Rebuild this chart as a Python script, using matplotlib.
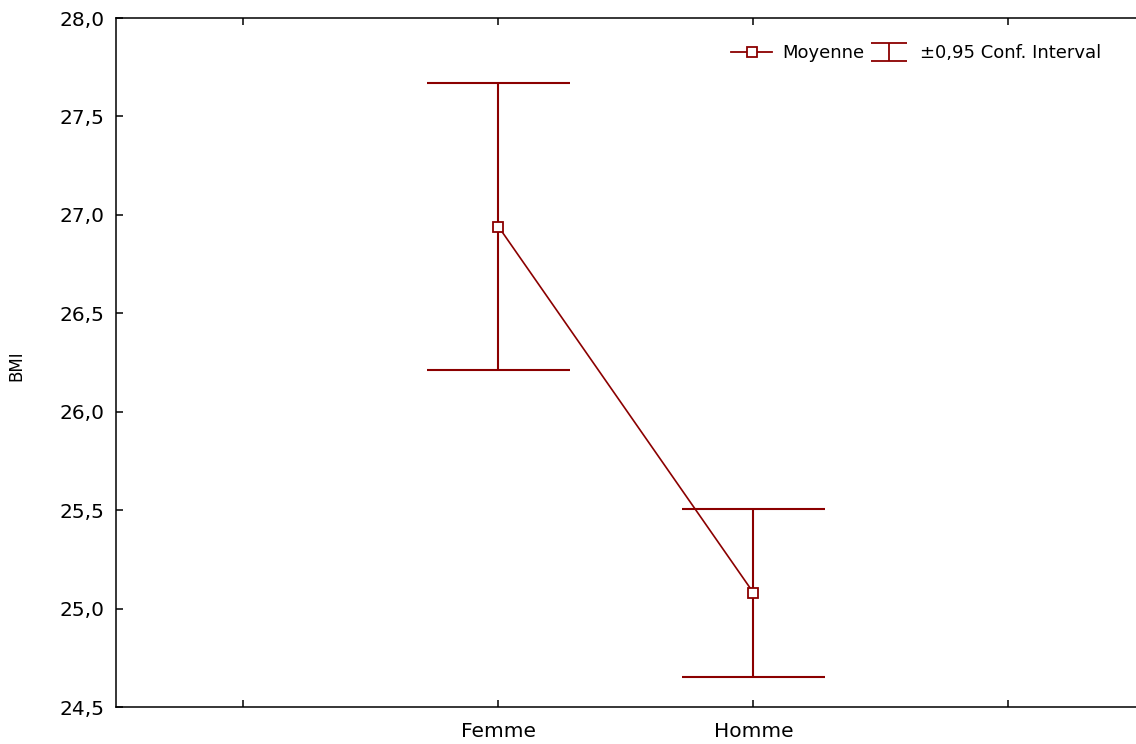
import matplotlib
matplotlib.use("Agg")
import matplotlib.pyplot as plt
from matplotlib.lines import Line2D
from matplotlib.path import Path
import numpy as np

# data
groups = ["Femme", "Homme"]
means = [26.94, 25.08]
ci_low = [26.21, 24.655]
ci_high = [27.67, 25.505]
y_ticks = [24.5, 25.0, 25.5, 26.0, 26.5, 27.0, 27.5, 28.0]

RED = "#8b0000"
plt.rcParams["font.family"] = ["DejaVu Sans"]

fig = plt.figure(figsize=(11.36, 7.44), dpi=100)
ax = fig.add_axes([0.1021, 0.0497, 0.8979, 0.9261])

x = np.arange(1, len(groups) + 1)
cap = 0.28
ax.vlines(x, ci_low, ci_high, color=RED, lw=1.5, zorder=1)
ax.hlines(ci_low, x - cap, x + cap, color=RED, lw=1.5, zorder=1)
ax.hlines(ci_high, x - cap, x + cap, color=RED, lw=1.5, zorder=1)
ax.plot(x, means, color=RED, lw=1.2, marker="s", ms=7.5, mfc="white",
        mec=RED, mew=1.3, zorder=3)

ax.set_xlim(-0.5, 3.5)
ax.set_ylim(24.5, 28.0)
ax.set_xticks([0, 1, 2, 3])
ax.set_xticklabels(["", groups[0], groups[1], ""])
ax.set_yticks(y_ticks)
ax.set_yticklabels([f"{v:.1f}".replace(".", ",") for v in y_ticks])
ax.tick_params(direction="in", length=5, width=1.1, labelsize=14.5, top=True)
ax.tick_params(axis="x", pad=11)
ax.tick_params(axis="y", pad=8)
for s in ["left", "top", "bottom"]:
    ax.spines[s].set_linewidth(1.1)
ax.spines["right"].set_visible(False)
ax.set_ylabel("BMI", fontsize=12)
ax.yaxis.set_label_coords(-0.0892, 0.496)

# legend: mean marker + "I" shaped CI symbol
ibeam = Path([(-1, 0.5), (1, 0.5), (0, 0.5), (0, -0.5), (-1, -0.5), (1, -0.5)],
             [Path.MOVETO, Path.LINETO, Path.MOVETO, Path.LINETO, Path.MOVETO, Path.LINETO])
h_mean = Line2D([], [], color=RED, lw=1.3, marker="s", ms=7.5, mfc="white", mec=RED, mew=1.3)
h_ci = Line2D([], [], ls="none", marker=ibeam, ms=26, mec=RED, mew=1.3)
ax.legend([h_mean, h_ci], ["Moyenne", "±0,95 Conf. Interval"], ncol=2, frameon=False,
          loc="center right", bbox_to_anchor=(1101 / 1136, 1 - 53 / 744),
          bbox_transform=fig.transFigure, borderpad=0, borderaxespad=0,
          fontsize=13, handlelength=2.27, handletextpad=0.55, columnspacing=0.25)

fig.savefig("out.png", dpi=100)
